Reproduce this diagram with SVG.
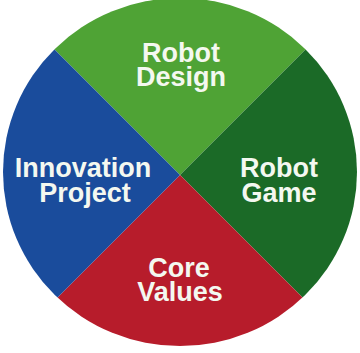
<svg xmlns="http://www.w3.org/2000/svg" width="360" height="353" viewBox="0 0 360 353">
<style>
text{font-family:"Liberation Sans",Arial,sans-serif;font-weight:bold;font-size:27px;fill:#f4f8f0;text-anchor:middle}
</style>
<defs>
<clipPath id="c"><ellipse cx="180" cy="172" rx="177" ry="174"/></clipPath>
</defs>
<rect width="360" height="353" fill="#ffffff"/>
<g clip-path="url(#c)">
<g id="robot-design"><polygon points="180,175 -10,-15 370,-15" fill="#4fa335"/></g>
<g id="robot-game"><polygon points="180,175 370,-15 370,365" fill="#1b6a27"/></g>
<g id="core-values"><polygon points="180,175 370,365 -10,365" fill="#b71c2b"/></g>
<g id="innovation-project"><polygon points="180,175 -10,365 -10,-15" fill="#1a4c9c"/></g>
</g>
<g id="labels">
<text><tspan x="181" y="62">Robot</tspan><tspan x="181" y="86">Design</tspan></text>
<text><tspan x="83" y="177">Innovation</tspan><tspan x="85" y="202">Project</tspan></text>
<text><tspan x="279" y="177">Robot</tspan><tspan x="279" y="202">Game</tspan></text>
<text><tspan x="179" y="277">Core</tspan><tspan x="180" y="301">Values</tspan></text>
</g>
</svg>
